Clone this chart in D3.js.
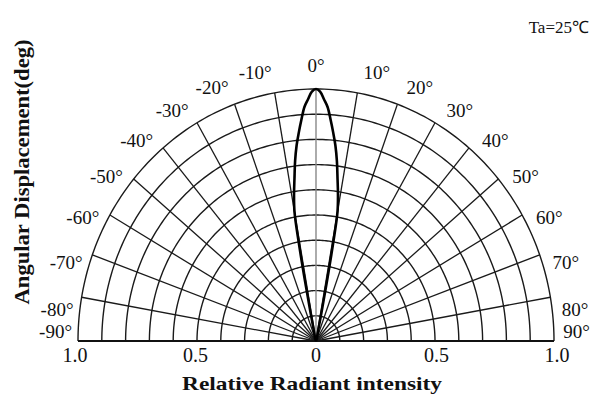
<!DOCTYPE html>
<html>

<head>
  <meta charset="utf-8">
  <title>Radiation Pattern</title>
  <script src="https://cdn.jsdelivr.net/npm/d3@7"></script>
  <style>
    body { margin: 0; background: #fff; }
    text { font-family: "Liberation Serif", "Times New Roman", serif; fill: #111; }
  </style>
</head>

<body>
  <svg width="596" height="399"></svg>
  <script>
    // angular tick labels (deg) and radial rings (relative intensity)
    const angleTicks = [-90, -80, -70, -60, -50, -40, -30, -20, -10, 0, 10, 20, 30, 40, 50, 60, 70, 80, 90];
    const rings = [0.1, 0.2, 0.3, 0.4, 0.5, 0.6, 0.7, 0.8, 0.9, 1.0];
    const xTickValues = [-1, -0.5, 0, 0.5, 1];
    const xTickLabels = ["1.0", "0.5", "0", "0.5", "1.0"];

    // measured pattern, one half (symmetric about 0 deg)
    const halfAngles = [0, 1, 2, 3, 4, 5, 6, 7, 8, 9, 10, 10.5, 11, 11.5, 12, 15, 20, 30, 90];
    const halfIntensity = [1.00, 0.99, 0.96, 0.93, 0.88, 0.83, 0.78, 0.72, 0.65, 0.59, 0.52, 0.40, 0.24, 0.12, 0.05, 0.02, 0.01, 0, 0];

    const svg = d3.select("svg");

    const x = d3.scaleLinear().domain([-1, 1]).range([78, 554]);
    const y = d3.scaleLinear().domain([0, 1]).range([341, 89]);
    const rad = d => d * Math.PI / 180;
    const pt = (a, r) => [x(r * Math.sin(rad(a))), y(r * Math.cos(rad(a)))];

    const line = d3.line();
    const grid = svg.append("g").attr("fill", "none");

    // rings
    rings.forEach(r => {
      grid.append("path")
        .attr("d", line(d3.range(-90, 90.5, 1).map(a => pt(a, r))))
        .attr("stroke", "#1a1a1a")
        .attr("stroke-width", 1.4);
    });

    // spokes
    angleTicks.forEach(a => {
      grid.append("path")
        .attr("d", line([pt(a, 0), pt(a, 1)]))
        .attr("stroke", a === 0 ? "#888" : "#1a1a1a")
        .attr("stroke-width", a === 0 ? 1.4 : 1.3);
    });

    // base line
    svg.append("line")
      .attr("x1", x(-1)).attr("x2", x(1))
      .attr("y1", y(0)).attr("y2", y(0))
      .attr("stroke", "#111")
      .attr("stroke-width", 2);

    // pattern curve
    const pattern = halfAngles.slice().reverse().map((a, i) => [-a, halfIntensity[halfAngles.length - 1 - i]])
      .concat(halfAngles.slice(1).map((a, i) => [a, halfIntensity[i + 1]]));

    svg.append("path")
      .attr("d", d3.line().curve(d3.curveCatmullRom)(pattern.map(d => pt(d[0], d[1]))))
      .attr("fill", "none")
      .attr("stroke", "#000")
      .attr("stroke-width", 2.6)
      .attr("stroke-linejoin", "round");

    // angle labels
    svg.append("g").selectAll("text")
      .data(angleTicks)
      .join("text")
      .attr("transform", d => {
        const la = d === 0 ? 0 : Math.sign(d) * (Math.abs(d) === 90 ? 88 : Math.abs(d) + 3.5);
        const p = pt(la, 1.095);
        return `translate(${p[0]},${p[1]})`;
      })
      .attr("text-anchor", "middle")
      .attr("dominant-baseline", "central")
      .attr("font-size", 19)
      .text(d => d + "°");

    // intensity labels
    svg.append("g").selectAll("text")
      .data(xTickValues)
      .join("text")
      .attr("x", d => x(d) + d * 3)
      .attr("y", 355)
      .attr("text-anchor", "middle")
      .attr("dominant-baseline", "central")
      .attr("font-size", 20)
      .text((d, i) => xTickLabels[i]);

    svg.append("text")
      .attr("x", 312).attr("y", 383)
      .attr("text-anchor", "middle")
      .attr("dominant-baseline", "central")
      .attr("font-size", 19)
      .attr("font-weight", "bold")
      .attr("textLength", 260)
      .attr("lengthAdjust", "spacingAndGlyphs")
      .text("Relative Radiant intensity");

    svg.append("text")
      .attr("transform", "translate(22,172) rotate(-90)")
      .attr("text-anchor", "middle")
      .attr("dominant-baseline", "central")
      .attr("font-size", 21)
      .attr("font-weight", "bold")
      .attr("textLength", 265)
      .attr("lengthAdjust", "spacingAndGlyphs")
      .text("Angular Displacement(deg)");

    svg.append("text")
      .attr("x", 589).attr("y", 27)
      .attr("text-anchor", "end")
      .attr("dominant-baseline", "central")
      .attr("font-size", 17)
      .text("Ta=25℃");
  </script>
</body>

</html>
